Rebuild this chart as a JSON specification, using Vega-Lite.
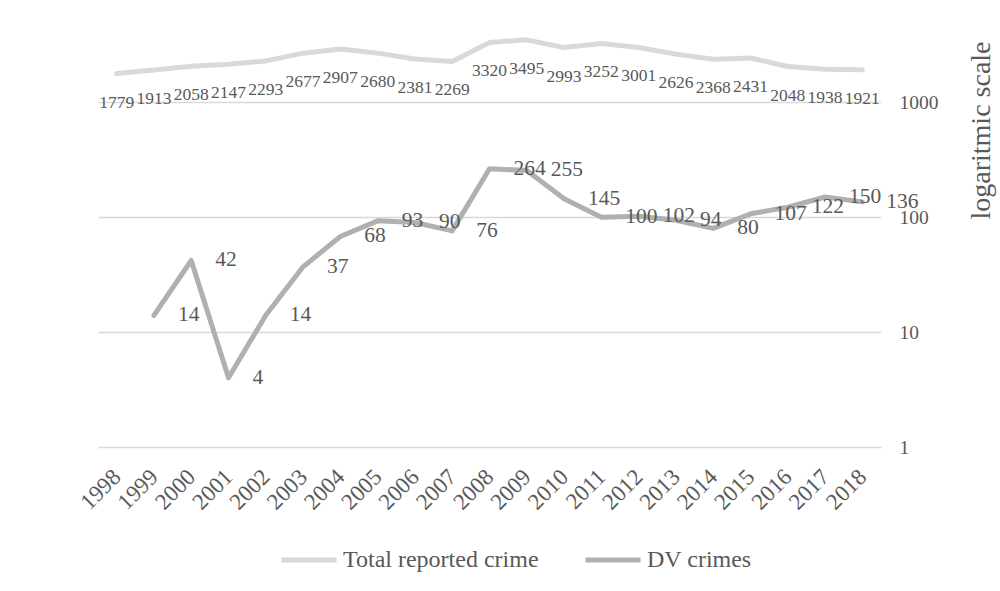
{
  "$schema": "https://vega.github.io/schema/vega-lite/v6.json",
  "width": 783,
  "height": 425,
  "autosize": {"type": "none"},
  "padding": {"left": 98, "top": 22, "right": 119, "bottom": 144},
  "background": "white",
  "config": {"view": {"stroke": null}, "font": "Liberation Serif"},
  "data": {
    "values": [
      {"year": 1998, "series": "Total reported crime", "value": 1779},
      {"year": 1999, "series": "Total reported crime", "value": 1913},
      {"year": 2000, "series": "Total reported crime", "value": 2058},
      {"year": 2001, "series": "Total reported crime", "value": 2147},
      {"year": 2002, "series": "Total reported crime", "value": 2293},
      {"year": 2003, "series": "Total reported crime", "value": 2677},
      {"year": 2004, "series": "Total reported crime", "value": 2907},
      {"year": 2005, "series": "Total reported crime", "value": 2680},
      {"year": 2006, "series": "Total reported crime", "value": 2381},
      {"year": 2007, "series": "Total reported crime", "value": 2269},
      {"year": 2008, "series": "Total reported crime", "value": 3320},
      {"year": 2009, "series": "Total reported crime", "value": 3495},
      {"year": 2010, "series": "Total reported crime", "value": 2993},
      {"year": 2011, "series": "Total reported crime", "value": 3252},
      {"year": 2012, "series": "Total reported crime", "value": 3001},
      {"year": 2013, "series": "Total reported crime", "value": 2626},
      {"year": 2014, "series": "Total reported crime", "value": 2368},
      {"year": 2015, "series": "Total reported crime", "value": 2431},
      {"year": 2016, "series": "Total reported crime", "value": 2048},
      {"year": 2017, "series": "Total reported crime", "value": 1938},
      {"year": 2018, "series": "Total reported crime", "value": 1921},
      {"year": 1999, "series": "DV crimes", "value": 14},
      {"year": 2000, "series": "DV crimes", "value": 42},
      {"year": 2001, "series": "DV crimes", "value": 4},
      {"year": 2002, "series": "DV crimes", "value": 14},
      {"year": 2003, "series": "DV crimes", "value": 37},
      {"year": 2004, "series": "DV crimes", "value": 68},
      {"year": 2005, "series": "DV crimes", "value": 93},
      {"year": 2006, "series": "DV crimes", "value": 90},
      {"year": 2007, "series": "DV crimes", "value": 76},
      {"year": 2008, "series": "DV crimes", "value": 264},
      {"year": 2009, "series": "DV crimes", "value": 255},
      {"year": 2010, "series": "DV crimes", "value": 145},
      {"year": 2011, "series": "DV crimes", "value": 100},
      {"year": 2012, "series": "DV crimes", "value": 102},
      {"year": 2013, "series": "DV crimes", "value": 94},
      {"year": 2014, "series": "DV crimes", "value": 80},
      {"year": 2015, "series": "DV crimes", "value": 107},
      {"year": 2016, "series": "DV crimes", "value": 122},
      {"year": 2017, "series": "DV crimes", "value": 150},
      {"year": 2018, "series": "DV crimes", "value": 136}
    ]
  },
  "encoding": {
    "x": {
      "field": "year",
      "type": "ordinal",
      "scale": {"type": "point", "padding": 0.5},
      "axis": {
        "title": null,
        "labelAngle": -45,
        "labelAlign": "right",
        "labelBaseline": "middle",
        "labelFontSize": 23,
        "labelFont": "Liberation Serif",
        "labelColor": "#595959",
        "labelPadding": 26,
        "ticks": false,
        "domain": false,
        "grid": false
      }
    },
    "y": {
      "field": "value",
      "type": "quantitative",
      "scale": {"type": "log", "domain": [1, 5000], "nice": false},
      "axis": {
        "orient": "right",
        "values": [1, 10, 100, 1000],
        "format": "d",
        "grid": true,
        "gridColor": "#d9d9d9",
        "gridWidth": 1.3,
        "ticks": false,
        "domain": false,
        "labelPadding": 18,
        "labelFontSize": 19.5,
        "labelFont": "Liberation Serif",
        "labelColor": "#595959",
        "labelAlign": "left",
        "title": "logaritmic scale",
        "titleFont": "Liberation Serif",
        "titleFontSize": 28,
        "titleFontWeight": "normal",
        "titleColor": "#595959",
        "titleAngle": 270,
        "titleAlign": "center",
        "titleBaseline": "middle",
        "titleX": 100,
        "titleY": 108
      }
    }
  },
  "layer": [
    {
      "mark": {"type": "line", "strokeWidth": 5, "strokeCap": "round", "strokeJoin": "round"},
      "encoding": {
        "color": {
          "field": "series",
          "type": "nominal",
          "scale": {"domain": ["Total reported crime", "DV crimes"], "range": ["#d9d9d9", "#b0b0b0"]},
          "legend": {
            "title": null,
            "orient": "none",
            "legendX": 181,
            "legendY": 508,
            "direction": "horizontal",
            "symbolType": "stroke",
            "symbolSize": 3025,
            "symbolStrokeWidth": 5,
            "labelFontSize": 24,
            "labelFont": "Liberation Serif",
            "labelColor": "#595959",
            "labelLimit": 0,
            "labelOffset": 4,
            "columnPadding": 36
          }
        }
      }
    },
    {
      "transform": [{"filter": "datum.series === 'Total reported crime'"}],
      "mark": {"type": "text", "dy": 29, "fontSize": 17.5, "color": "#595959", "align": "center", "baseline": "middle", "font": "Liberation Serif"},
      "encoding": {"text": {"field": "value", "type": "quantitative", "format": "d"}}
    },
    {
      "transform": [{"filter": "datum.series === 'DV crimes'"}],
      "mark": {"type": "text", "dx": 24, "fontSize": 21.5, "color": "#595959", "align": "left", "baseline": "middle", "font": "Liberation Serif"},
      "encoding": {"text": {"field": "value", "type": "quantitative", "format": "d"}}
    }
  ]
}
